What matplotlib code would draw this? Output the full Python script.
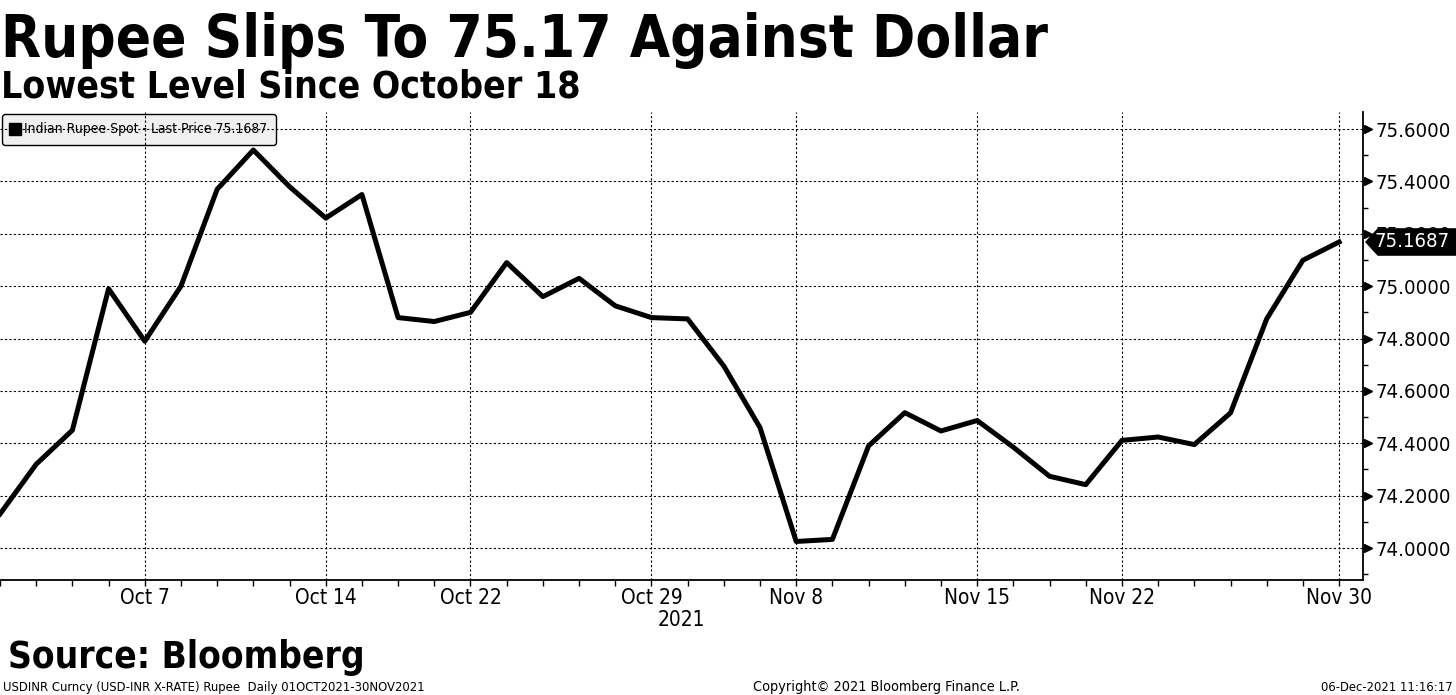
import matplotlib
matplotlib.use('Agg')
import matplotlib.pyplot as plt
import matplotlib.transforms as mtransforms
from matplotlib.lines import Line2D
from matplotlib.patches import Polygon
from matplotlib.ticker import MultipleLocator, FixedLocator, FormatStrFormatter

# a condensed face is used if one is installed, otherwise sizes are fitted to width below
plt.rcParams['font.family'] = ['DejaVu Sans']
plt.rcParams['font.stretch'] = 'condensed'

# trading days (USDINR daily, Oct 1 - Nov 30 2021)
dates = ['Oct 1', 'Oct 4', 'Oct 5', 'Oct 6', 'Oct 7', 'Oct 8', 'Oct 11', 'Oct 12',
         'Oct 13', 'Oct 14', 'Oct 18', 'Oct 20', 'Oct 21', 'Oct 22', 'Oct 25',
         'Oct 26', 'Oct 27', 'Oct 28', 'Oct 29', 'Nov 1', 'Nov 2', 'Nov 3',
         'Nov 8', 'Nov 9', 'Nov 10', 'Nov 11', 'Nov 12', 'Nov 15', 'Nov 16',
         'Nov 17', 'Nov 18', 'Nov 22', 'Nov 23', 'Nov 24', 'Nov 25', 'Nov 26',
         'Nov 29', 'Nov 30']
price = [74.13, 74.32, 74.45, 74.99, 74.79, 75.00, 75.37, 75.52,
         75.38, 75.26, 75.35, 74.88, 74.865, 74.90, 75.09,
         74.96, 75.03, 74.925, 74.88, 74.875, 74.695, 74.46,
         74.025, 74.033, 74.39, 74.517, 74.447, 74.487, 74.385,
         74.274, 74.242, 74.411, 74.424, 74.395, 74.516, 74.875,
         75.099, 75.1687]
label_dates = ['Oct 7', 'Oct 14', 'Oct 22', 'Oct 29', 'Nov 8', 'Nov 15', 'Nov 22', 'Nov 30']
year_label = '2021'
last_price = price[-1]

title = 'Rupee Slips To 75.17 Against Dollar'
subtitle = 'Lowest Level Since October 18'
source = 'Source: Bloomberg'
series_name = 'Indian Rupee Spot - Last Price %.4f' % last_price
foot_left = 'USDINR Curncy (USD-INR X-RATE) Rupee  Daily 01OCT2021-30NOV2021'
foot_mid = 'Copyright\u00a9 2021 Bloomberg Finance L.P.'
foot_right = '06-Dec-2021 11:16:17'

fig = plt.figure(figsize=(14.56, 6.95), dpi=100)
r = fig.canvas.get_renderer()


def width_size(s, px, size=20, weight='normal'):
    # font size that makes string s about px pixels wide
    t = fig.text(0, 0, s, fontsize=size, fontweight=weight)
    w = t.get_window_extent(r).width
    t.remove()
    return size * px / w


ytick_size = width_size('75.6000', 75)
xtick_size = width_size('Oct 14', 62)

ax = fig.add_axes([0, 0.1655, 0.9361, 0.6733])

x = list(range(len(dates)))
ax.plot(x, price, color='black', lw=3.6, zorder=5)

ax.set_xlim(0, 37.66)
ax.set_ylim(73.878, 75.665)

for s in ['left', 'top']:
    ax.spines[s].set_visible(False)
for s in ['right', 'bottom']:
    ax.spines[s].set_linewidth(1.3)
    ax.spines[s].set_color('black')

# y axis on the right
ax.yaxis.tick_right()
ax.yaxis.set_major_locator(MultipleLocator(0.2))
ax.yaxis.set_minor_locator(MultipleLocator(0.1))
ax.yaxis.set_major_formatter(FormatStrFormatter('%.4f'))
ax.tick_params(axis='y', which='major', length=0, pad=9, labelsize=ytick_size, colors='black')
ax.tick_params(axis='y', which='minor', length=3.5, width=1, direction='out')

# x axis: tick every trading day, labels on a few
label_pos = [dates.index(d) for d in label_dates]
ax.xaxis.set_major_locator(FixedLocator(label_pos))
ax.xaxis.set_minor_locator(FixedLocator(x))
ax.set_xticklabels(label_dates)
ax.tick_params(axis='x', which='both', length=4.5, width=1, direction='out', pad=1.5,
               labelsize=xtick_size)

dots = (0, (2, 2))
ax.grid(axis='y', which='major', color='black', ls=dots, lw=0.8)
ax.grid(axis='x', which='major', color='black', ls=dots, lw=0.8)

# little arrow heads at the right-hand major ticks
trans = mtransforms.blended_transform_factory(ax.transAxes, ax.transData)
yt = [v for v in ax.get_yticks() if 73.878 <= v <= 75.665]
ax.plot([1.0037] * len(yt), yt, ls='none', marker='>', ms=5.5, color='black',
        transform=trans, clip_on=False)

# last price tag (covers the 75.2000 label like the terminal does)
w = 1362.9
hh = 0.05
tag = Polygon([(1 + 3 / w, last_price), (1 + 15 / w, last_price + hh),
               (1 + 95 / w, last_price + hh), (1 + 95 / w, last_price - hh),
               (1 + 15 / w, last_price - hh)], closed=True, fc='black', ec='black',
              transform=trans, clip_on=False, zorder=10)
ax.add_patch(tag)
ax.text(1 + 12 / w, last_price, '%.4f' % last_price, color='white', fontsize=ytick_size,
        va='center', ha='left', transform=trans, zorder=11, clip_on=False)

# year under the axis
ax.text(18.82, -0.0855, year_label, fontsize=xtick_size, ha='center', va='center',
        transform=mtransforms.blended_transform_factory(ax.transData, ax.transAxes))

# legend
h = Line2D([], [], marker='s', color='black', ls='none', ms=8)
leg = ax.legend([h], [series_name], loc='upper left', bbox_to_anchor=(0, 1),
                borderaxespad=0.15, fontsize=width_size(series_name, 243),
                handlelength=0.6, handletextpad=0.4,
                borderpad=0.6, fancybox=True, framealpha=1, facecolor='#f0f0f0',
                edgecolor='black')
leg.get_frame().set_linewidth(1)
leg.set_zorder(1)

# titles and footer
fig.text(0.001, 1 - 57 / 695, title, fontsize=width_size(title, 1048, weight='bold'),
         fontweight='bold', va='baseline')
fig.text(0.001, 1 - 97 / 695, subtitle, fontsize=width_size(subtitle, 580, weight='bold'),
         fontweight='bold', va='baseline')
fig.text(0.0055, 1 - 668 / 695, source, fontsize=width_size(source, 358, weight='bold'),
         fontweight='bold', va='baseline')
fig.text(0.002, 1 - 691 / 695, foot_left, fontsize=width_size(foot_left, 422), va='baseline')
fig.text(753 / 1456, 1 - 691 / 695, foot_mid, fontsize=width_size(foot_mid, 267), va='baseline')
fig.text(0.998, 1 - 691 / 695, foot_right, fontsize=width_size(foot_right, 131),
         va='baseline', ha='right')

fig.savefig('out.png', dpi=100)
